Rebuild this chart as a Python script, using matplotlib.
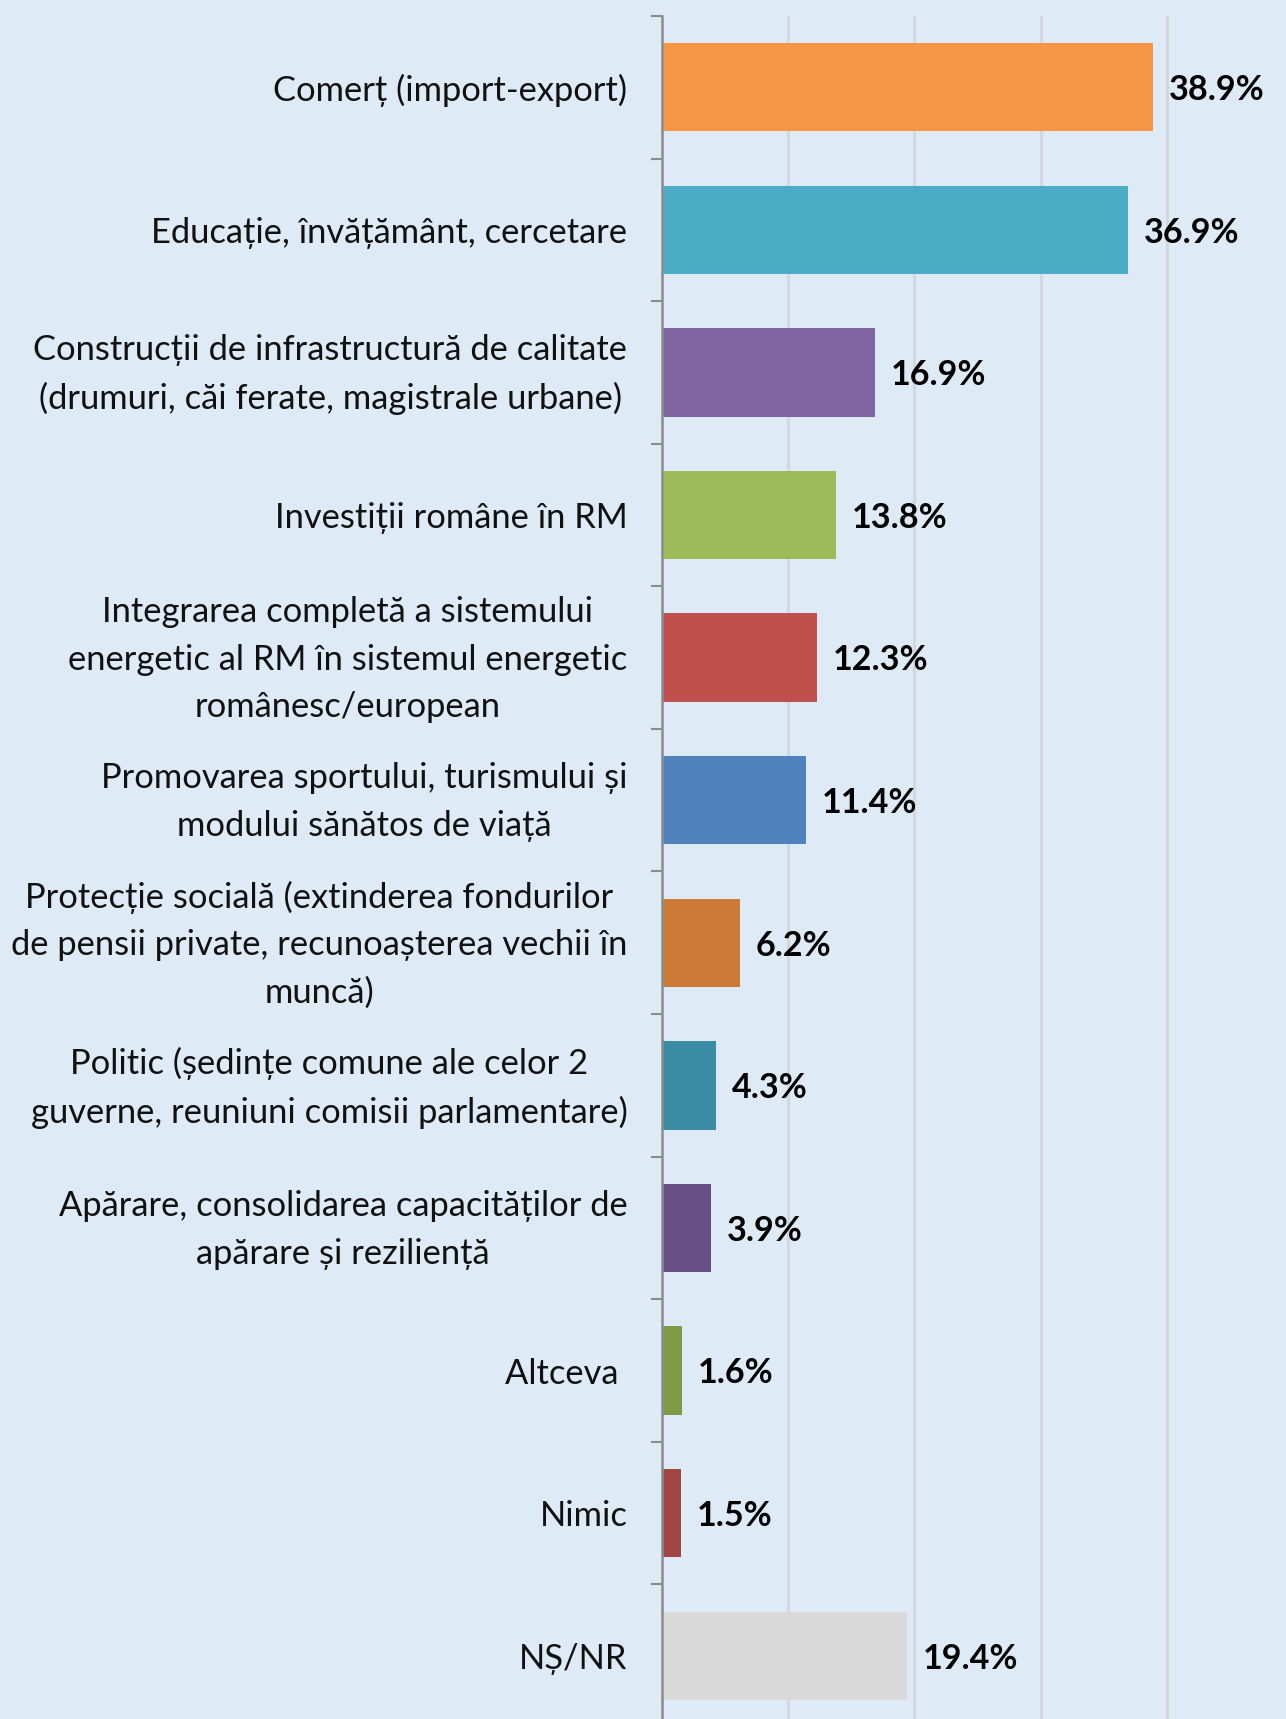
import matplotlib
matplotlib.use("Agg")
import matplotlib.pyplot as plt
import matplotlib.transforms as mtransforms
import numpy as np

plt.rcParams['font.family'] = ['Lato', 'DejaVu Sans']

categories = [
    "Comerț (import-export)",
    "Educație, învățământ, cercetare",
    "Construcții de infrastructură de calitate\n(drumuri, căi ferate, magistrale urbane)",
    "Investiții române în RM",
    "Integrarea completă a sistemului\nenergetic al RM în sistemul energetic\nromânesc/european",
    "Promovarea sportului, turismului și\nmodului sănătos de viață",
    "Protecție socială (extinderea fondurilor\nde pensii private, recunoașterea vechii în\nmuncă)",
    "Politic (ședințe comune ale celor 2\nguverne, reuniuni comisii parlamentare)",
    "Apărare, consolidarea capacităților de\napărare și reziliență",
    "Altceva ",
    "Nimic",
    "NȘ/NR",
]
values = [38.9, 36.9, 16.9, 13.8, 12.3, 11.4, 6.2, 4.3, 3.9, 1.6, 1.5, 19.4]
colors = [
    "#F79646", "#4BACC6", "#8064A2", "#9BBB59", "#C0504D", "#4F81BD",
    "#CC7A38", "#398CA3", "#684F86", "#7D9B46", "#A04542", "#D9D9D9",
]

bg = "#DEEAF6"
W, H = 1286, 1719
fig = plt.figure(figsize=(W / 100, H / 100), dpi=100, facecolor=bg)
ax = fig.add_axes([662 / W, -8 / H, (W - 662) / W, (1727 - 16) / H])
ax.set_facecolor(bg)

y = np.arange(len(categories))
ax.barh(y, values, height=0.62, color=colors, zorder=3)

ax.set_xlim(0, (W - 662) / 12.62)
ax.set_ylim(len(categories) - 0.5, -0.5)

# vertical gridlines every 10%
ax.set_xticks([10, 20, 30, 40])
ax.tick_params(axis='x', length=0, labelbottom=False)
ax.grid(axis='x', color="#D4D8DD", linewidth=2.2, zorder=0)

# category labels at centres, tick marks at category boundaries
ax.set_yticks(y)
ax.set_yticklabels(categories, fontsize=24.8, color="#111111",
                   multialignment='center', linespacing=1.6)
ax.tick_params(axis='y', which='major', length=0, pad=25)
ax.set_yticks(np.arange(-0.5, len(categories) + 0.5, 1), minor=True)
ax.tick_params(axis='y', which='minor', length=8, width=1.5, color="#8C8C8C")

# centre wrapped labels on their bars
lift = mtransforms.ScaledTranslation(0, 0.088, fig.dpi_scale_trans)
for lbl in ax.get_yticklabels():
    if "\n" in lbl.get_text():
        lbl.set_transform(lbl.get_transform() + lift)

for s in ['top', 'right', 'bottom']:
    ax.spines[s].set_visible(False)
ax.spines['left'].set_color("#8C8C8C")
ax.spines['left'].set_linewidth(1.8)
ax.spines['left'].set_zorder(4)

for yi, v in zip(y, values):
    ax.text(v + 1.25, yi + 0.02, f"{v:.1f}%", va='center', ha='left',
            fontsize=24.6, fontweight='bold', color="#000000", zorder=5)

fig.savefig("out.png", dpi=100, facecolor=bg)
